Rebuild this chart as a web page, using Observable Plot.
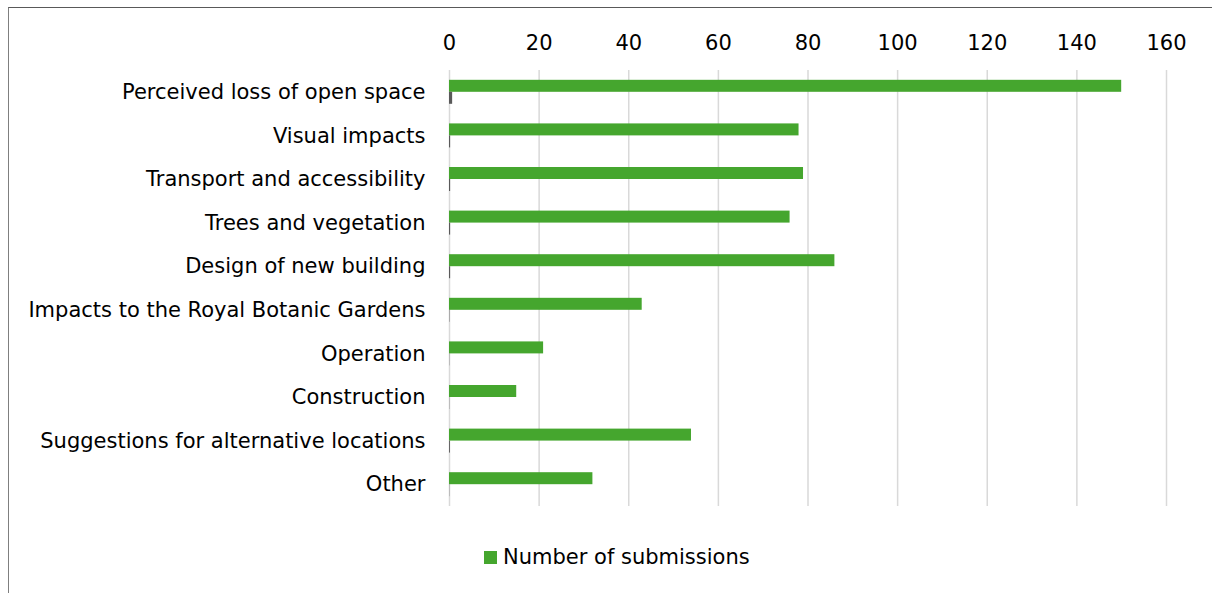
<!DOCTYPE html>
<html>
<head>
<meta charset="utf-8">
<script src="https://cdn.jsdelivr.net/npm/d3@7"></script>
<script src="https://cdn.jsdelivr.net/npm/@observablehq/plot@0.6"></script>
<style>
  html, body { margin: 0; padding: 0; background: #fff; }
  body { width: 1212px; height: 593px; position: relative; overflow: hidden; font-family: "DejaVu Sans", sans-serif; }
  #frame { position: absolute; left: 8px; top: 7px; right: 0; bottom: 0; border-left: 1.5px solid #7f7f7f; border-top: 1.5px solid #595959; }
  #chart { position: absolute; left: 0; top: 0; }
  #legend { position: absolute; left: 484px; top: 545px; display: flex; align-items: center; font-size: 21px; color: #000; }
  #legend .sw { width: 13px; height: 13px; background: #45a62e; margin-right: 6px; }
</style>
</head>
<body>
<div id="frame"></div>
<div id="chart"></div>
<div id="legend"><span class="sw"></span><span>Number of submissions</span></div>
<script>
const categories = [
  "Perceived loss of open space",
  "Visual impacts",
  "Transport and accessibility",
  "Trees and vegetation",
  "Design of new building",
  "Impacts to the Royal Botanic Gardens",
  "Operation",
  "Construction",
  "Suggestions for alternative locations",
  "Other"
];
const submissions = [150, 78, 79, 76, 86, 43, 21, 15, 54, 32];
const secondary = [0.7, 0.25, 0.25, 0.25, 0.25, 0.08, 0.05, 0.05, 0.2, 0.05];
const xTicks = [0, 20, 40, 60, 80, 100, 120, 140, 160];

const main = categories.map((c, i) => ({category: c, value: submissions[i]}));
const second = categories.map((c, i) => ({category: c, value: secondary[i]}));

const font = '"DejaVu Sans", sans-serif';
const chart = Plot.plot({
  width: 1212,
  height: 520,
  marginLeft: 449,
  marginRight: 46,
  marginTop: 70,
  marginBottom: 14,
  style: {fontFamily: font, fontSize: "21px", color: "#000", background: "transparent"},
  x: {domain: [0, 160], axis: null, label: null},
  y: {domain: categories, paddingInner: 0.725, paddingOuter: 0.3625, round: false, axis: null, label: null},
  marks: [
    Plot.ruleX(xTicks, {stroke: "#d9d9d9", strokeWidth: 1.5}),
    Plot.axisX(xTicks, {anchor: "top", tickSize: 0, tickPadding: 21, fontSize: 21, fill: "#000", label: null}),
    Plot.axisY({anchor: "left", tickSize: 0, tickPadding: 24, fontSize: 21, fill: "#000", label: null}),
    Plot.barX(main, {y: "category", x1: 0, x2: "value", fill: "#45a62e", dy: -6}),
    Plot.barX(second, {y: "category", x1: 0, x2: "value", fill: "#595959", dy: 6})
  ]
});
document.getElementById("chart").appendChild(chart);
</script>
</body>
</html>
